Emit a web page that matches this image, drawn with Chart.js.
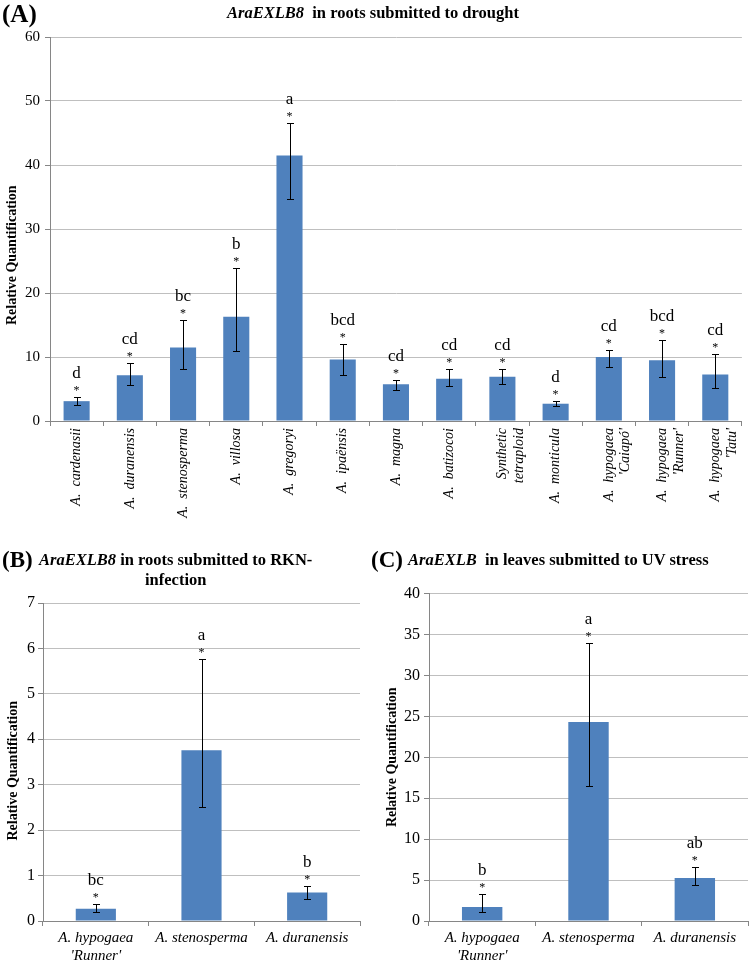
<!DOCTYPE html>
<html><head><meta charset="utf-8">
<script src="https://cdn.jsdelivr.net/npm/chart.js@4/dist/chart.umd.min.js"></script>
<style>
html,body{margin:0;padding:0;background:#fff;}
body{width:751px;height:963px;position:relative;overflow:hidden;font-family:"Liberation Serif","Times New Roman",serif;color:#000;}
canvas{position:absolute;}
.t{position:absolute;white-space:pre;font-weight:bold;}
</style></head><body>
<canvas id="cA" style="left:0;top:0;width:751px;height:550px" width="751" height="550"></canvas>
<canvas id="cB" style="left:0;top:590px;width:375px;height:373px" width="375" height="373"></canvas>
<canvas id="cC" style="left:375px;top:580px;width:376px;height:383px" width="376" height="383"></canvas>

<div class="t" style="left:2px;top:0px;font-size:25px;line-height:28px;">(A)</div>
<div class="t" style="left:227px;top:4px;font-size:16.5px;line-height:18px;"><i>AraEXLB8</i>  in roots submitted to drought</div>

<div class="t" style="left:2px;top:547px;font-size:23px;line-height:26px;">(B)</div>
<div class="t" style="left:39px;top:551px;font-size:16.5px;line-height:18px;"><i>AraEXLB8</i> in roots submitted to RKN-</div>
<div class="t" style="left:145px;top:571px;font-size:16.5px;line-height:18px;">infection</div>

<div class="t" style="left:371px;top:547px;font-size:23px;line-height:26px;">(C)</div>
<div class="t" style="left:408px;top:551px;font-size:16.5px;line-height:18px;"><i>AraEXLB</i>  in leaves submitted to UV stress</div>

<script>
// ---------- Panel A data ----------
const categoriesA = [
  ["A.  cardenasii"], ["A.  duranensis"], ["A.  stenosperma"], ["A.  villosa"],
  ["A.  gregoryi"], ["A.  ipaënsis"], ["A.  magna"], ["A.  batizocoi"],
  ["Synthetic", "tetraploid"], ["A.  monticula"], ["A.  hypogaea", "'Caiapó'"],
  ["A.  hypogaea", "'Runner'"], ["A.  hypogaea", "'Tatu'"]
];
const valuesA   = [3.1, 7.15, 11.5, 16.3, 41.5, 9.6, 5.75, 6.6, 6.9, 2.7, 10.0, 9.5, 7.25];
const upperA    = [3.75, 9.05, 15.75, 23.9, 46.5, 12.05, 6.45, 8.2, 8.2, 3.1, 11.1, 12.6, 10.4];
const lowerA    = [2.45, 5.6, 8.05, 11.0, 34.7, 7.25, 4.8, 5.4, 5.85, 2.4, 8.4, 6.9, 5.2];
const lettersA  = ["d", "cd", "bc", "b", "a", "bcd", "cd", "cd", "cd", "d", "cd", "bcd", "cd"];
const ticksA    = {min: 0, max: 60, step: 10};

// ---------- Panel B data ----------
const categoriesB = [["A. hypogaea", "'Runner'"], ["A. stenosperma"], ["A. duranensis"]];
const valuesB   = [0.27, 3.76, 0.63];
const upperB    = [0.37, 5.76, 0.78];
const lowerB    = [0.20, 2.52, 0.49];
const lettersB  = ["bc", "a", "b"];
const ticksB    = {min: 0, max: 7, step: 1};

// ---------- Panel C data ----------
const categoriesC = [["A. hypogaea", "'Runner'"], ["A. stenosperma"], ["A. duranensis"]];
const valuesC   = [1.7, 24.3, 5.25];
const upperC    = [3.25, 34.0, 6.6];
const lowerC    = [1.13, 16.5, 4.45];
const lettersC  = ["b", "a", "ab"];
const ticksC    = {min: 0, max: 40, step: 5};

const yTitle = 'Relative Quantification';

const SERIF = '"Liberation Serif", "Times New Roman", serif';
const BAR = '#4F81BD';
const AXIS = '#868686';
const GRID = '#bfbfbf';

const errPlugin = {
  id: 'errbars',
  afterDatasetsDraw(chart) {
    const ds = chart.data.datasets[0];
    const meta = chart.getDatasetMeta(0);
    const y = chart.scales.y;
    const ctx = chart.ctx;
    ctx.save();
    meta.data.forEach((bar, i) => {
      const X = Math.round(bar.x) + 0.5;
      const yt = Math.round(y.getPixelForValue(ds.errUpper[i])) + 0.5;
      const yb = Math.round(y.getPixelForValue(ds.errLower[i])) + 0.5;
      ctx.strokeStyle = '#000';
      ctx.lineWidth = 1;
      ctx.beginPath();
      ctx.moveTo(X, yt); ctx.lineTo(X, yb);
      ctx.moveTo(X - 3.5, yt); ctx.lineTo(X + 3.5, yt);
      ctx.moveTo(X - 3.5, yb); ctx.lineTo(X + 3.5, yb);
      ctx.stroke();
      ctx.fillStyle = '#000';
      ctx.textAlign = 'center';
      ctx.textBaseline = 'alphabetic';
      ctx.font = '12px ' + SERIF;
      ctx.fillText('*', bar.x, yt - 4);
      ctx.font = '17px ' + SERIF;
      ctx.fillText(ds.letters[i], bar.x, yt - 20);
    });
    ctx.restore();
  }
};

function makeChart(id, cats, vals, up, lo, letters, tk, cfg) {
  return new Chart(document.getElementById(id), {
    type: 'bar',
    data: {
      labels: cats,
      datasets: [{
        data: vals,
        errUpper: up, errLower: lo, letters: letters,
        backgroundColor: BAR,
        borderWidth: 0,
        categoryPercentage: 1.0,
        barPercentage: cfg.barPct
      }]
    },
    options: {
      responsive: false,
      animation: false,
      devicePixelRatio: 1,
      layout: {padding: cfg.padding},
      plugins: {legend: {display: false}, tooltip: {enabled: false}, title: {display: false}},
      scales: {
        x: {
          offset: true,
          grid: {display: true, drawOnChartArea: false, offset: true, tickLength: 5, color: AXIS, tickColor: AXIS},
          border: {display: true, color: AXIS, width: 1},
          ticks: {
            autoSkip: false,
            minRotation: cfg.rot, maxRotation: cfg.rot,
            padding: cfg.xPad,
            color: '#000',
            font: {family: SERIF, size: cfg.xFont, style: 'italic'}
          },
          afterFit: s => { s.height = cfg.xH; }
        },
        y: {
          min: tk.min, max: tk.max,
          grid: {color: GRID, tickLength: 5, tickColor: AXIS, lineWidth: 1},
          border: {display: true, color: AXIS, width: 1},
          ticks: {stepSize: tk.step, padding: cfg.yPad, color: '#000', font: {family: SERIF, size: cfg.yFont}},
          title: {
            display: true,
            // trailing non-breaking spaces shift the centred title toward the bottom, as in the reference
            text: yTitle + '\u00A0'.repeat(cfg.titleShift),
            color: '#000',
            font: {family: SERIF, size: 14, weight: 'bold'},
            padding: {top: cfg.titlePad, bottom: 0}
          },
          afterFit: s => { s.width = cfg.yW; }
        }
      }
    },
    plugins: [errPlugin]
  });
}

makeChart('cA', categoriesA, valuesA, upperA, lowerA, lettersA, ticksA, {
  barPct: 0.49, rot: 90, xPad: 2, xFont: 14, yFont: 15, yPad: 5, yW: 50, titlePad: 4, titleShift: 15,
  xH: 550 - 421, padding: {left: 0, right: 3, top: 37, bottom: 0}
});
makeChart('cB', categoriesB, valuesB, upperB, lowerB, lettersB, ticksB, {
  barPct: 0.38, rot: 0, xPad: 3, xFont: 15, yFont: 16, yPad: 3, yW: 43, titlePad: 5, titleShift: 5,
  xH: 373 - 331, padding: {left: 0, right: 15, top: 13, bottom: 0}
});
makeChart('cC', categoriesC, valuesC, upperC, lowerC, lettersC, ticksC, {
  barPct: 0.38, rot: 0, xPad: 3, xFont: 15, yFont: 16, yPad: 4, yW: 54, titlePad: 9, titleShift: 0,
  xH: 383 - 341, padding: {left: 0, right: 3, top: 13, bottom: 0}
});
</script>
</body></html>
